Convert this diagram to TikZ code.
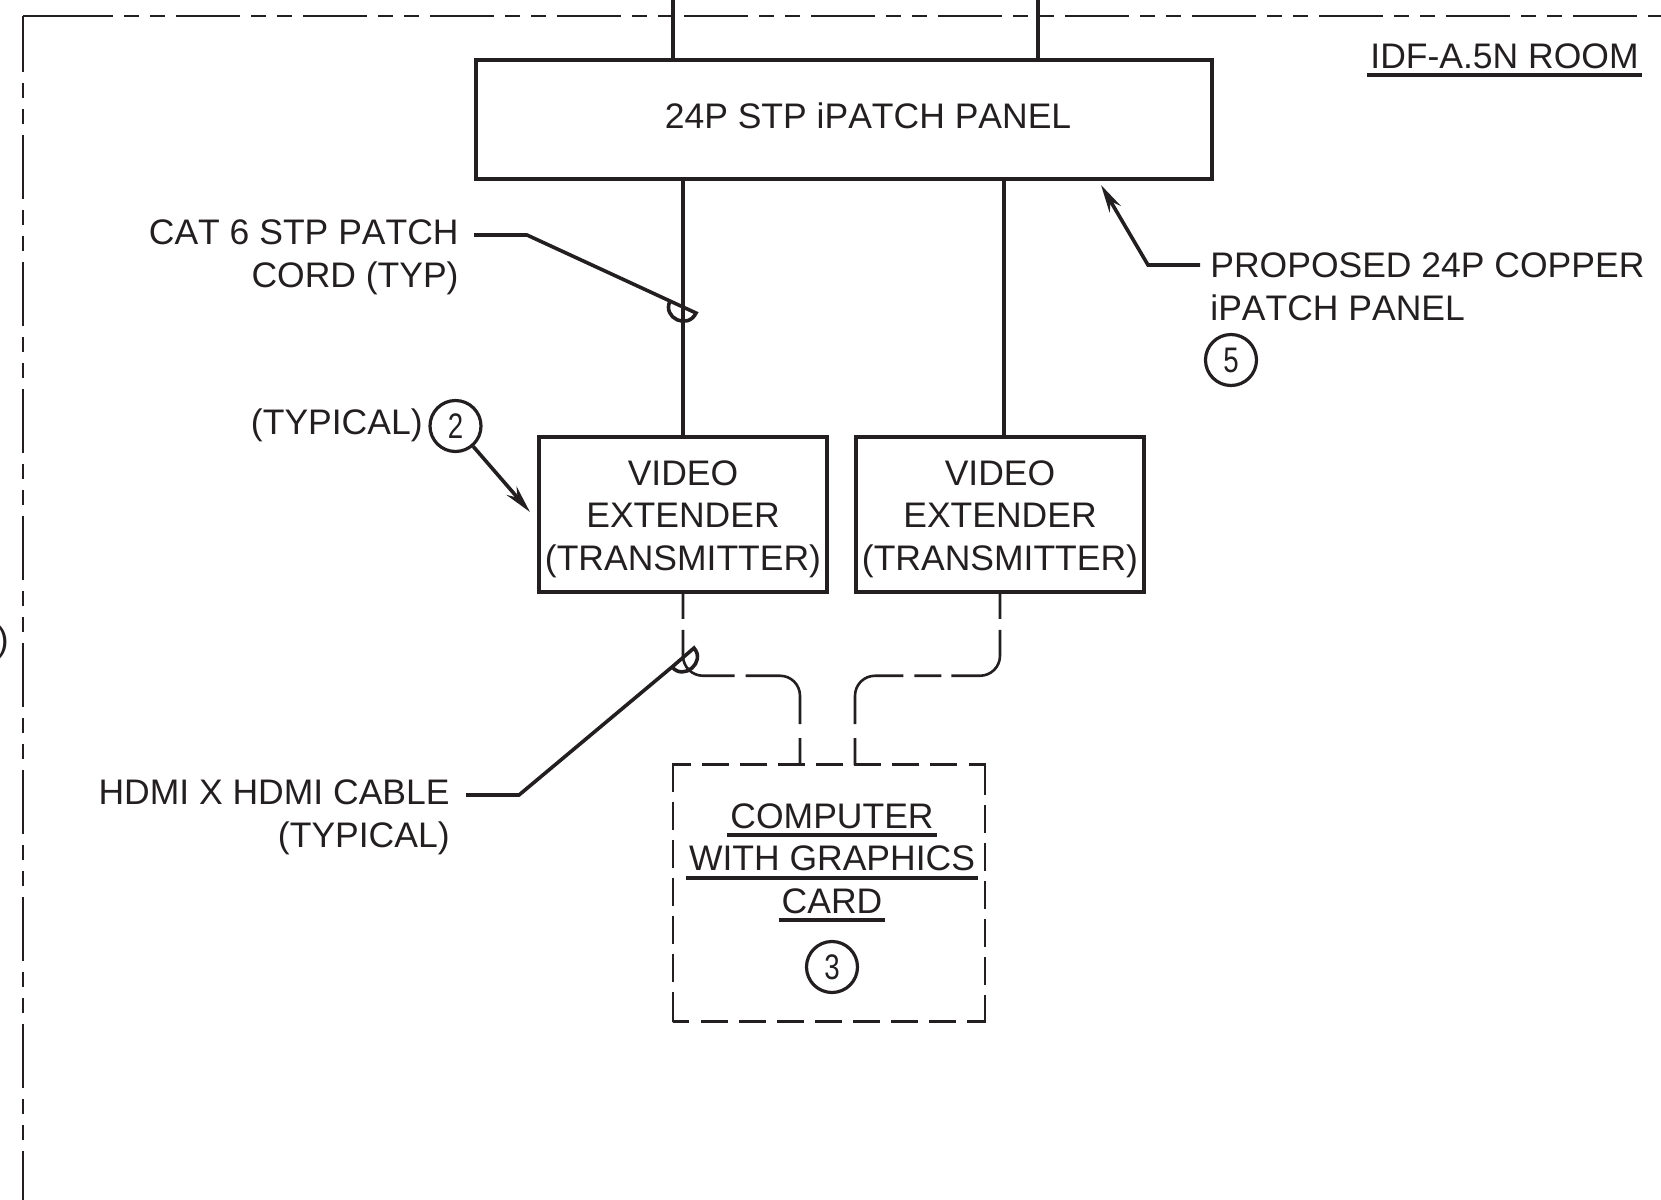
\documentclass[tikz,border=0pt]{standalone}
\usepackage{xcolor}
\usepackage{fontspec}
\usepackage{tikz}
\usetikzlibrary{positioning,arrows.meta}
\setmainfont[Kerning=Off]{Liberation Sans}
\definecolor{inkline}{HTML}{231F20}
\newcommand{\ultext}[1]{\setbox0\hbox{#1}\rlap{\kern-1.5pt\raisebox{-4.5pt}[0pt][0pt]{\rule{\dimexpr\wd0+3pt\relax}{2pt}}}\box0}
\newcommand{\tagdigit}[1]{\scalebox{0.78}[1]{#1}}
\newcommand{\boxtop}{\rule{0pt}{17pt}}

\begin{document}
\begin{tikzpicture}[
    x=0.5pt, y=-0.5pt,
    color=inkline,
    every node/.style={font=\fontsize{17.75pt}{21.35pt}\selectfont},
    block/.style={rectangle, draw, line width=1.75pt, minimum width=144pt, minimum height=77.5pt, align=center, inner sep=0pt},
    caption/.style={inner sep=0pt, align=center},
    tagcircle/.style={circle, draw, line width=1.6pt, minimum size=25.5pt, inner sep=0pt},
    cable/.style={line width=1.6pt},
    hdmi/.style={line width=1.3pt, rounded corners=10pt},
    computerbox/.style={rectangle, draw, line width=1.3pt, minimum width=156pt, minimum height=128.5pt,
        dash pattern=on 8pt off 6pt on 13.5pt off 5.5pt on 13.5pt off 5.5pt on 13.5pt off 5.5pt on 13.5pt off 5.5pt on 13.5pt off 5.5pt on 13.5pt off 5.5pt on 13.5pt off 5.5pt on 22.5pt off 5pt on 14pt off 5pt on 14pt off 5pt on 14pt off 5pt on 14pt off 5pt on 14pt off 5pt on 15pt off 0pt},
    roomline/.style={line width=1.25pt, dash pattern=on 32pt off 5.5pt on 7.5pt off 5.5pt on 7.5pt off 5.5pt},
    leader/.style={line width=1.8pt, line join=miter},
    arrow/.style={leader, -{Stealth[length=14pt, width=6.5pt]}}
]
\useasboundingbox (0,0) rectangle (1661,1200);

% room outline
\coordinate (roomcorner) at (23,16);
\draw[roomline] (49,16) -- (1661,16);
\draw[roomline, dash phase=4pt] (roomcorner) -- (23,1200);
\draw[line width=1.25pt] (roomcorner) -- (49,16);
\node[caption, anchor=base east] (roomname) at (1639,68) {\ultext{IDF-A.5N ROOM}};
\node[caption, anchor=east] (cutoff) at (9,642) {)};

% boxes
\node[block, minimum width=368pt, minimum height=59.5pt] (panel) at (844,119.5) {};
\node[caption, anchor=base] (paneltext) at (868,128) {24P STP iPATCH PANEL};
\node[block] (vidleft) at (683,514.5) {\boxtop VIDEO\\EXTENDER\\(TRANSMITTER)};
\node[block, right=12.75pt of vidleft] (vidright) {\boxtop VIDEO\\EXTENDER\\(TRANSMITTER)};
\node[computerbox] (computer) at (829,893) {};
\node[caption] (computertext) at (832,858.5) {\ultext{COMPUTER}\\\ultext{WITH GRAPHICS}\\\ultext{CARD}};
\node[tagcircle] (tagthree) at (832,967) {\tagdigit{3}};

% notes
\node[caption, anchor=east, align=right] (catnote) at (459,257) {CAT 6 STP PATCH\\CORD (TYP)};
\node[caption, anchor=west, align=left] (panelnote) at (1210,287) {PROPOSED 24P COPPER\\iPATCH PANEL};
\node[caption, anchor=east, align=right] (hdminote) at (450,817) {HDMI X HDMI CABLE\\(TYPICAL)};
\node[caption, anchor=east] (typnote) at (423,425) {(TYPICAL)};
\node[tagcircle] (tagtwo) at (455.5,426) {\tagdigit{2}};
\node[tagcircle] (tagfive) at (1231,360) {\tagdigit{5}};

% cables
\coordinate (feedleft) at (673,0);
\coordinate (feedright) at (1038,0);
\coordinate (patchright) at (1004,179);
\coordinate (hdmileft) at (800,765);
\coordinate (hdmiright) at (855,765);
\draw[cable] (feedleft) -- (feedleft |- panel.north);
\draw[cable] (feedright) -- (feedright |- panel.north);
\draw[cable] (vidleft.north |- panel.south) -- (vidleft.north);
\draw[cable] (patchright) -- (patchright |- vidright.north);
\draw[hdmi, dash pattern=on 12.5pt off 5.5pt on 44.5pt off 5.5pt on 47pt off 7pt on 14pt off 20pt] (vidleft.south) -- ++(0,82) -| (hdmileft);
\draw[hdmi, dash pattern=on 12.5pt off 5.5pt on 43pt off 5pt on 13.5pt off 5.5pt on 44pt off 7pt on 14pt off 20pt] (vidright.south) -- ++(0,82) -| (hdmiright);

% leaders
\coordinate (catknee) at (527,235);
\coordinate (cattip) at (696,313);
\coordinate (catback) at (670,301);
\draw[leader] (474,235) -- (catknee) -- (cattip) .. controls (688,330) and (662,318) .. (catback);
\coordinate (hdmiknee) at (519,795);
\coordinate (hdmitip) at (694,648);
\coordinate (hdmiback) at (672,667);
\draw[leader] (466,795) -- (hdmiknee) -- (hdmiback) .. controls (684,681) and (706,662) .. (hdmitip) -- (hdmiback);
\coordinate (panelknee) at (1148,265);
\coordinate (paneltip) at (1101,185);
\draw[arrow] (1200,265) -- (panelknee) -- (paneltip);
\coordinate (typtip) at (530,512);
\draw[arrow] (tagtwo) -- (typtip);
\end{tikzpicture}
\end{document}
